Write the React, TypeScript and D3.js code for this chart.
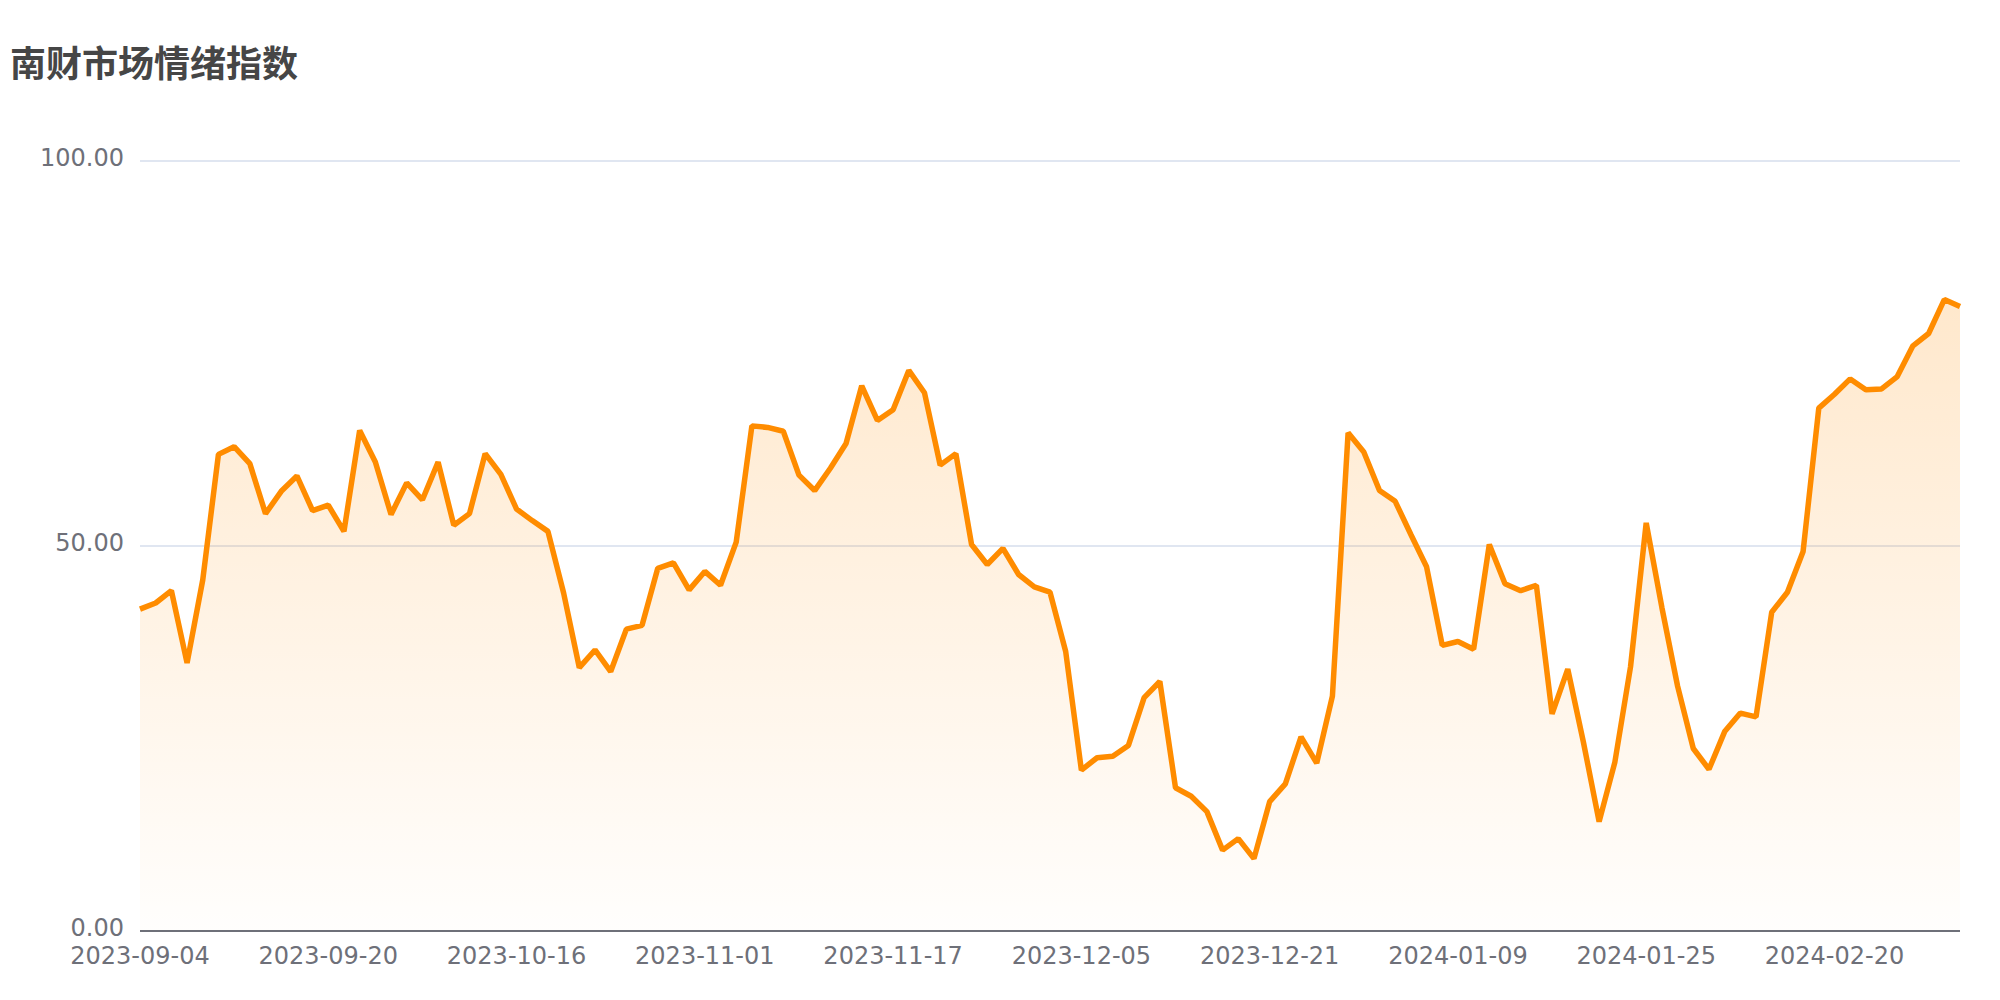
import React from "react";
import * as d3 from "d3";

const title = "南财市场情绪指数";

const dates: string[] = [
  "2023-09-04","2023-09-05","2023-09-06","2023-09-07","2023-09-08",
  "2023-09-11","2023-09-12","2023-09-13","2023-09-14","2023-09-15",
  "2023-09-18","2023-09-19","2023-09-20","2023-09-21","2023-09-22",
  "2023-09-25","2023-09-26","2023-09-27","2023-09-28",
  "2023-10-09","2023-10-10","2023-10-11","2023-10-12","2023-10-13",
  "2023-10-16","2023-10-17","2023-10-18","2023-10-19","2023-10-20",
  "2023-10-23","2023-10-24","2023-10-25","2023-10-26","2023-10-27",
  "2023-10-30","2023-10-31",
  "2023-11-01","2023-11-02","2023-11-03","2023-11-06","2023-11-07",
  "2023-11-08","2023-11-09","2023-11-10","2023-11-13","2023-11-14",
  "2023-11-15","2023-11-16","2023-11-17","2023-11-20","2023-11-21",
  "2023-11-22","2023-11-23","2023-11-24","2023-11-27","2023-11-28",
  "2023-11-29","2023-11-30",
  "2023-12-01","2023-12-04","2023-12-05","2023-12-06","2023-12-07",
  "2023-12-08","2023-12-11","2023-12-12","2023-12-13","2023-12-14",
  "2023-12-15","2023-12-18","2023-12-19","2023-12-20","2023-12-21",
  "2023-12-22","2023-12-25","2023-12-26","2023-12-27","2023-12-28",
  "2023-12-29",
  "2024-01-02","2024-01-03","2024-01-04","2024-01-05","2024-01-08",
  "2024-01-09","2024-01-10","2024-01-11","2024-01-12","2024-01-15",
  "2024-01-16","2024-01-17","2024-01-18","2024-01-19","2024-01-22",
  "2024-01-23","2024-01-24","2024-01-25","2024-01-26","2024-01-29",
  "2024-01-30","2024-01-31",
  "2024-02-01","2024-02-02","2024-02-05","2024-02-06","2024-02-07",
  "2024-02-08","2024-02-19","2024-02-20","2024-02-21","2024-02-22",
  "2024-02-23","2024-02-26","2024-02-27","2024-02-28","2024-02-29",
  "2024-03-01",
];

const sentiment: number[] = [
  41.8, 42.6, 44.2, 34.8, 45.6, 61.9, 62.9, 60.7, 54.2, 57.1,
  59.1, 54.6, 55.3, 51.9, 65.0, 60.9, 54.1, 58.2, 56.0, 60.9,
  52.7, 54.2, 62.0, 59.3, 54.8, 53.3, 51.9, 43.9, 34.2, 36.5,
  33.7, 39.2, 39.7, 47.1, 47.8, 44.3, 46.7, 44.9, 50.5, 65.6,
  65.4, 64.9, 59.2, 57.2, 60.1, 63.3, 70.8, 66.3, 67.7, 72.8,
  69.9, 60.5, 62.0, 50.2, 47.6, 49.7, 46.3, 44.7, 44.0, 36.3,
  20.9, 22.5, 22.7, 24.1, 30.3, 32.4, 18.6, 17.5, 15.5, 10.5,
  12.0, 9.4, 16.8, 19.1, 25.2, 21.8, 30.5, 64.7, 62.2, 57.2,
  55.8, 51.5, 47.3, 37.1, 37.6, 36.6, 50.2, 45.1, 44.2, 44.9,
  28.2, 34.0, 24.5, 14.2, 21.9, 34.3, 53.0, 42.0, 31.8, 23.7,
  21.0, 25.9, 28.3, 27.8, 41.4, 44.0, 49.3, 67.9, 69.7, 71.7,
  70.3, 70.4, 72.0, 76.0, 77.6, 82.0, 81.1,
];

const yTicks: number[] = [0, 50, 100];
const labelEvery = 12;

export default function App() {
  const W = 2000;
  const H = 1000;
  const left = 140;
  const right = 1960;
  const top = 161;
  const bottom = 931;

  const x = d3.scalePoint<string>().domain(dates).range([left, right]);
  const y = d3.scaleLinear().domain([0, 100]).range([bottom, top]);

  const pts = dates.map((d, i) => ({ d, v: sentiment[i] }));
  const lineGen = d3
    .line<{ d: string; v: number }>()
    .x((p) => x(p.d) as number)
    .y((p) => y(p.v));
  const areaGen = d3
    .area<{ d: string; v: number }>()
    .x((p) => x(p.d) as number)
    .y0(y(0))
    .y1((p) => y(p.v));

  const font = "'DejaVu Sans', sans-serif";
  const labelColor = "#6E7079";

  return (
    <div style={{ position: "absolute", left: 0, top: 0 }}>
      <svg width={W} height={H} style={{ display: "block", background: "#fff" }}>
        <defs>
          <linearGradient id="areaGrad" x1="0" y1="0" x2="0" y2="1">
            <stop offset="0%" stopColor="#ff8c00" stopOpacity={0.2} />
            <stop offset="100%" stopColor="#ff8c00" stopOpacity={0.01} />
          </linearGradient>
        </defs>
        <text
          x={10}
          y={77}
          fontFamily="'Noto Sans CJK SC', sans-serif"
          fontWeight="bold"
          fontSize={36}
          fill="#464646"
        >
          {title}
        </text>
        {yTicks
          .filter((t) => t !== 0)
          .map((t) => (
            <line
              key={"g" + t}
              x1={left}
              x2={right}
              y1={y(t)}
              y2={y(t)}
              stroke="#E0E6F1"
              strokeWidth={2}
            />
          ))}
        <path d={areaGen(pts) || ""} fill="url(#areaGrad)" />
        <path
          d={lineGen(pts) || ""}
          fill="none"
          stroke="#ff8c00"
          strokeWidth={5.5}
          strokeLinejoin="bevel"
        />
        <line
          x1={left}
          x2={right}
          y1={y(0)}
          y2={y(0)}
          stroke={labelColor}
          strokeWidth={2}
        />
        {yTicks.map((t) => (
          <text
            key={"yl" + t}
            x={124}
            y={y(t) + 5.3}
            textAnchor="end"
            fontFamily={font}
            fontSize={24}
            fill={labelColor}
          >
            {t.toFixed(2)}
          </text>
        ))}
        {dates.map((d, i) =>
          i % labelEvery === 0 ? (
            <text
              key={"xl" + d}
              x={x(d) as number}
              y={964}
              textAnchor="middle"
              fontFamily={font}
              fontSize={24}
              fill={labelColor}
            >
              {d}
            </text>
          ) : null
        )}
      </svg>
    </div>
  );
}
